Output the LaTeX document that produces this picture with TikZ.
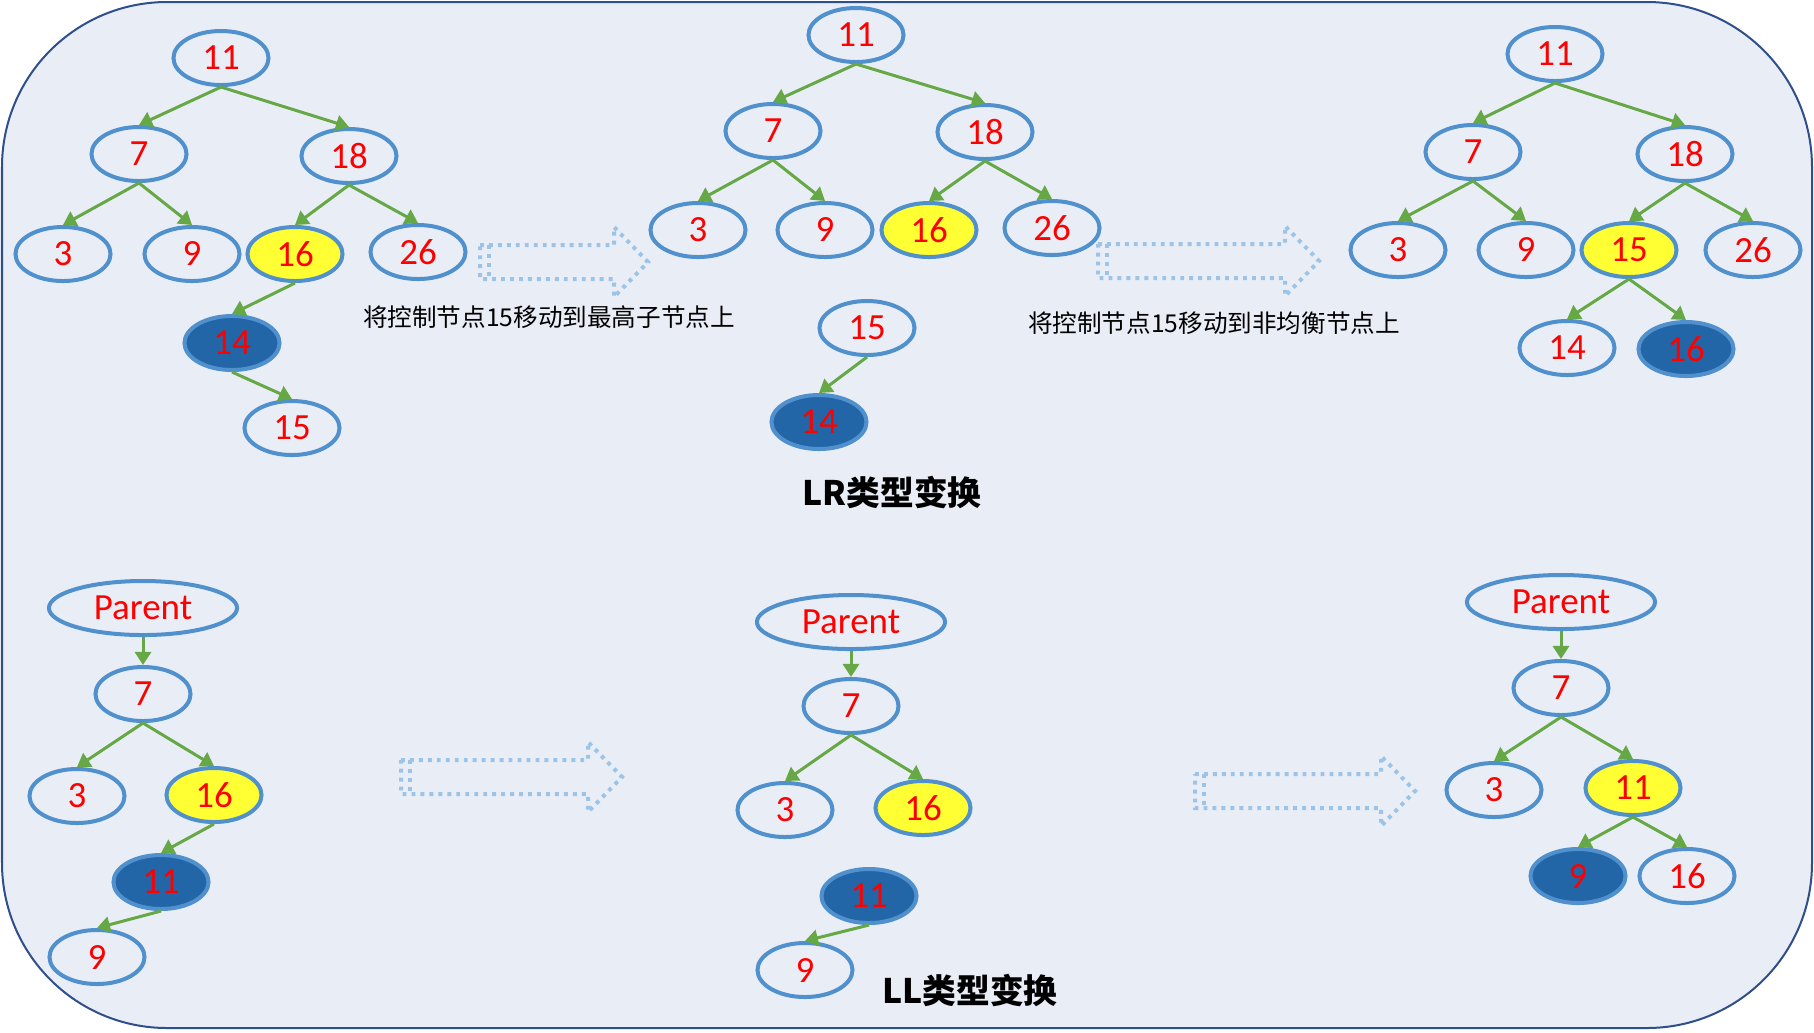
\documentclass[tikz,border=0pt]{standalone}
\usepackage{fontspec}
\setmainfont{Carlito}
\newfontfamily\cjk{Noto Sans CJK SC}
\usetikzlibrary{shapes.geometric,arrows.meta}
\definecolor{bgfill}{HTML}{E9EEF6}
\definecolor{bgline}{HTML}{2F4E8C}
\definecolor{nodeblue}{HTML}{5090CD}
\definecolor{darkfill}{HTML}{2266A8}
\definecolor{hilite}{HTML}{FFFF33}
\definecolor{edgegreen}{HTML}{66A845}
\definecolor{arrowblue}{HTML}{9DC3E6}

% hollow dotted arrow: left x, tip x, middle y
\newcommand{\fatarrow}[3]{%
    \draw[bigarrow] (#1,#3-17) -- (#2-34,#3-17) -- (#2-34,#3-35) -- (#2,#3)
        -- (#2-34,#3+35) -- (#2-34,#3+17) -- (#1,#3+17) -- cycle;
    \draw[bigarrow] (#1+9,#3-17) -- (#1+9,#3+17);
}

\begin{document}
\begin{tikzpicture}[x=0.01cm,y=-0.01cm,
        % define styles
        tnode/.style={
             draw=nodeblue,
             ellipse,
             line width=0.04cm,
             minimum width=0.95cm,
             minimum height=0.54cm,
             inner sep=0pt,
             text=red,
             font=\fontsize{10.5}{12}\selectfont
        },
        pnode/.style={tnode, minimum width=1.88cm},
        yel/.style={tnode, fill=hilite},
        drk/.style={tnode, fill=darkfill},
        tedge/.style={
            every edge/.style={
                draw=edgegreen,
                line width=0.03cm,
                -{Triangle[length=0.13cm,width=0.16cm]}
            }
        },
        bigarrow/.style={
            draw=arrowblue,
            line width=0.04cm,
            dash pattern=on 1.1pt off 1.45pt
        },
        note/.style={font=\cjk\fontsize{7}{9}\selectfont},
        title/.style={font=\cjk\bfseries\fontsize{9.6}{11}\selectfont}
    ]
        \useasboundingbox (0,0) rectangle (1814,1032);
        \draw[fill=bgfill, draw=bgline, line width=0.02cm, rounded corners=1.65cm]
            (2,2) rectangle (1812,1028);

        % LR: before
        \node[tnode] (la11) at (221,58)  {11};
        \node[tnode] (la7)  at (139,154) {7};
        \node[tnode] (la18) at (349,156) {18};
        \node[tnode] (la3)  at (63,254)  {3};
        \node[tnode] (la9)  at (192,254) {9};
        \node[yel]   (la16) at (295,254) {16};
        \node[tnode] (la26) at (418,252) {26};
        \node[drk]   (la14) at (232,343) {14};
        \node[tnode] (la15) at (292,428) {15};
        \path[tedge] (la11.south) edge (la7.north)
            (la11.south) edge (la18.north)
            (la7.south) edge (la3.north)
            (la7.south) edge (la9.north)
            (la18.south) edge (la16.north)
            (la18.south) edge (la26.north)
            (la16.south) edge (la14.north)
            (la14.south) edge (la15.north);

        \fatarrow{480}{648}{262}
        \node[note] (lrnote1) at (549,317) {将控制节点15移动到最高子节点上};

        % LR: middle
        \node[tnode] (lb11) at (856,35)  {11};
        \node[tnode] (lb7)  at (773,131) {7};
        \node[tnode] (lb18) at (985,132) {18};
        \node[tnode] (lb3)  at (698,230) {3};
        \node[tnode] (lb9)  at (825,230) {9};
        \node[yel]   (lb16) at (929,230) {16};
        \node[tnode] (lb26) at (1052,228) {26};
        \node[tnode] (lb15) at (867,328) {15};
        \node[drk]   (lb14) at (819,422) {14};
        \path[tedge] (lb11.south) edge (lb7.north)
            (lb11.south) edge (lb18.north)
            (lb7.south) edge (lb3.north)
            (lb7.south) edge (lb9.north)
            (lb18.south) edge (lb16.north)
            (lb18.south) edge (lb26.north)
            (lb15.south) edge (lb14.north);
        \node[title] (lrtitle) at (892,492) {LR类型变换};

        \fatarrow{1098}{1319}{261}
        \node[note] (lrnote2) at (1214,323) {将控制节点15移动到非均衡节点上};

        % LR: after
        \node[tnode] (lc11) at (1555,54)  {11};
        \node[tnode] (lc7)  at (1473,152) {7};
        \node[tnode] (lc18) at (1685,154) {18};
        \node[tnode] (lc3)  at (1398,250) {3};
        \node[tnode] (lc9)  at (1526,250) {9};
        \node[yel]   (lc15) at (1629,250) {15};
        \node[tnode] (lc26) at (1753,250) {26};
        \node[tnode] (lc14) at (1567,348) {14};
        \node[drk]   (lc16) at (1686,349) {16};
        \path[tedge] (lc11.south) edge (lc7.north)
            (lc11.south) edge (lc18.north)
            (lc7.south) edge (lc3.north)
            (lc7.south) edge (lc9.north)
            (lc18.south) edge (lc15.north)
            (lc18.south) edge (lc26.north)
            (lc15.south) edge (lc14.north)
            (lc15.south) edge (lc16.north);

        % LL: before
        \node[pnode] (maP)  at (143,608) {Parent};
        \node[tnode] (ma7)  at (143,694) {7};
        \node[tnode] (ma3)  at (77,796)  {3};
        \node[yel]   (ma16) at (214,795) {16};
        \node[drk]   (ma11) at (161,882) {11};
        \node[tnode] (ma9)  at (97,957)  {9};
        \path[tedge] (maP.south) edge (ma7.north)
            (ma7.south) edge (ma3.north)
            (ma7.south) edge (ma16.north)
            (ma16.south) edge (ma11.north)
            (ma11.south) edge (ma9.north);

        \fatarrow{401}{622}{777}

        % LL: middle
        \node[pnode] (mbP)  at (851,622) {Parent};
        \node[tnode] (mb7)  at (851,706) {7};
        \node[tnode] (mb3)  at (785,810) {3};
        \node[yel]   (mb16) at (923,808) {16};
        \node[drk]   (mb11) at (869,896) {11};
        \node[tnode] (mb9)  at (805,970) {9};
        \path[tedge] (mbP.south) edge (mb7.north)
            (mb7.south) edge (mb3.north)
            (mb7.south) edge (mb16.north)
            (mb11.south) edge (mb9.north);
        \node[title] (lltitle) at (970,990) {LL类型变换};

        \fatarrow{1195}{1415}{791}

        % LL: after
        \node[pnode] (mcP)  at (1561,602) {Parent};
        \node[tnode] (mc7)  at (1561,688) {7};
        \node[tnode] (mc3)  at (1494,790) {3};
        \node[yel]   (mc11) at (1633,788) {11};
        \node[drk]   (mc9)  at (1578,876) {9};
        \node[tnode] (mc16) at (1687,876) {16};
        \path[tedge] (mcP.south) edge (mc7.north)
            (mc7.south) edge (mc3.north)
            (mc7.south) edge (mc11.north)
            (mc11.south) edge (mc9.north)
            (mc11.south) edge (mc16.north);
    \end{tikzpicture}
\end{document}
